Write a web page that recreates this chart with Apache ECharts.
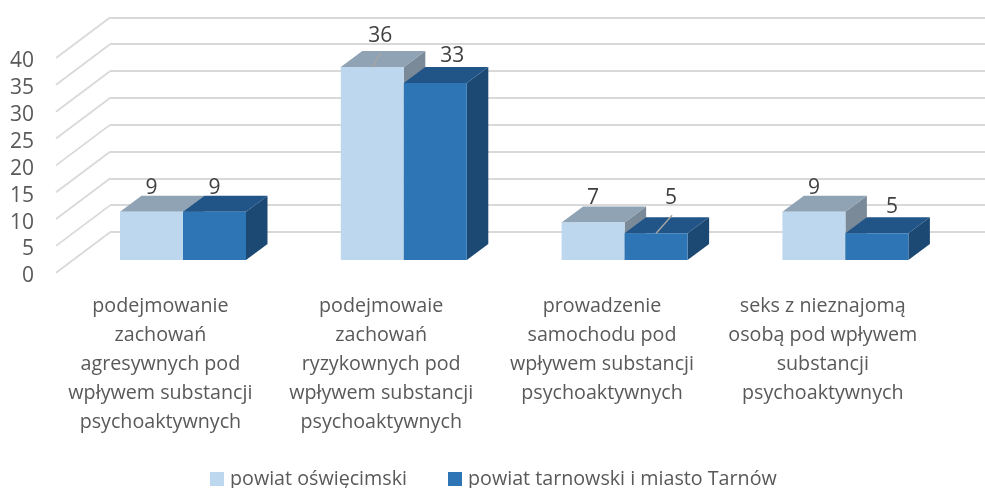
<!DOCTYPE html>
<html>
<head>
<meta charset="utf-8">
<style>html,body{margin:0;padding:0;background:#fff}#c{width:985px;height:488px}</style>
<script src="https://cdn.jsdelivr.net/npm/echarts@6/dist/echarts.min.js"></script>
</head>
<body>
<div id="c"></div>
<script>
const categories = [
  'podejmowanie\nzachowań\nagresywnych pod\nwpływem substancji\npsychoaktywnych',
  'podejmowaie\nzachowań\nryzykownych pod\nwpływem substancji\npsychoaktywnych',
  'prowadzenie\nsamochodu pod\nwpływem substancji\npsychoaktywnych',
  'seks z nieznajomą\nosobą pod wpływem\nsubstancji\npsychoaktywnych'
];
const seriesNames = ['powiat oświęcimski', 'powiat tarnowski i miasto Tarnów'];
const oswiecimski = [9, 36, 7, 9];
const tarnowski = [9, 33, 5, 5];
const tickValues = [0, 5, 10, 15, 20, 25, 30, 35, 40];

const FONT = '"Open Sans", sans-serif';
const barDepth = [21.5, -16];
const wallDepth = [54, -40.5];
const barFrac = 63 / 220.8;
const palettes = [
  { front: '#BDD7EE', top: '#8FA3B4', side: '#7A8A98' },
  { front: '#2E75B6', top: '#215588', side: '#1C4973' }
];
// label nudges [dx, dy from the front top edge] per series per category, leader = draw a leader line
const labelPlace = [
  [{ dx: 0, dy: -24 }, { dx: 8, dy: -31, leader: [[0, 0], [8, -14]] }, { dx: 0, dy: -24 }, { dx: 0, dy: -24 }],
  [{ dx: 0, dy: -24 }, { dx: 17, dy: -27 }, { dx: 15, dy: -35, leader: [[0, 0], [16, -18]] }, { dx: 15, dy: -26 }]
];

function barRenderer(si) {
  return function (params, api) {
    const idx = api.value(0), val = api.value(1);
    const top = api.coord([idx, val]);
    const base = api.coord([idx, 0]);
    const band = api.size([1, 0])[0];
    const w = band * barFrac;
    const x0 = si === 0 ? top[0] - w : top[0];
    const x1 = x0 + w;
    const [dx, dy] = barDepth;
    const pal = palettes[si];
    const place = labelPlace[si][idx];
    const cx = (x0 + x1) / 2;
    const children = [
      { type: 'polygon', shape: { points: [[x1, top[1]], [x1 + dx, top[1] + dy], [x1 + dx, base[1] + dy], [x1, base[1]]] }, style: { fill: pal.side } },
      { type: 'polygon', shape: { points: [[x0, top[1]], [x0 + dx, top[1] + dy], [x1 + dx, top[1] + dy], [x1, top[1]]] }, style: { fill: pal.top } },
      { type: 'rect', shape: { x: x0, y: top[1], width: w, height: base[1] - top[1] }, style: { fill: pal.front } }
    ];
    if (place.leader) {
      children.push({
        type: 'line',
        shape: { x1: cx + place.leader[0][0], y1: top[1] + place.leader[0][1], x2: cx + place.leader[1][0], y2: top[1] + place.leader[1][1] },
        style: { stroke: '#A6A6A6', lineWidth: 1.4 }
      });
    }
    children.push({
      type: 'text',
      style: {
        text: String(val), x: cx + place.dx, y: top[1] + place.dy,
        align: 'center', verticalAlign: 'middle',
        font: '21px ' + FONT, fill: '#404040'
      }
    });
    return { type: 'group', children };
  };
}

function wallDiagonal(params, api) {
  const p = api.coord([0, api.value(0)]);
  return {
    type: 'line',
    shape: { x1: p[0], y1: p[1], x2: p[0] + wallDepth[0], y2: p[1] + wallDepth[1] },
    style: { stroke: '#D9D9D9', lineWidth: 1.8 }
  };
}

const chart = echarts.init(document.getElementById('c'), null, { renderer: 'canvas' });
chart.setOption({
  animation: false,
  backgroundColor: '#fff',
  legend: {
    data: seriesNames,
    left: 205, top: 464,
    itemWidth: 14, itemHeight: 14, itemGap: 41, icon: 'rect',
    textStyle: { fontFamily: FONT, fontSize: 19.7, color: '#595959', padding: [0, 0, 0, 1] }
  },
  grid: [
    { left: 56, top: 58, width: 60, height: 214.7 },
    { left: 110, top: 17.3, width: 875, height: 214.7 },
    { left: 72.6, top: 45.6, width: 883.2, height: 214.4 },
    { left: 50, top: 45.6, width: 883.2, height: 214.4 },
    { left: 56, top: 61.5, width: 60, height: 214.7 }
  ],
  xAxis: [
    { gridIndex: 0, type: 'value', min: 0, max: 1, show: false },
    { gridIndex: 1, type: 'value', min: 0, max: 1, show: false },
    {
      gridIndex: 2, type: 'category', data: categories,
      axisLine: { show: false }, axisTick: { show: false }, axisLabel: { show: false }
    },
    {
      gridIndex: 3, type: 'category', data: categories,
      axisLine: { show: false }, axisTick: { show: false },
      axisLabel: { interval: 0, margin: 32, fontFamily: FONT, fontSize: 19.7, lineHeight: 29, color: '#595959', verticalAlign: 'top' }
    },
    { gridIndex: 4, type: 'value', min: 0, max: 1, show: false }
  ],
  yAxis: [
    { gridIndex: 0, type: 'value', min: 0, max: 40, interval: 5, show: false },
    {
      gridIndex: 1, type: 'value', min: 0, max: 40, interval: 5,
      axisLine: { show: false }, axisTick: { show: false }, axisLabel: { show: false },
      splitLine: { show: true, lineStyle: { color: '#D9D9D9', width: 1.8 } }
    },
    { gridIndex: 2, type: 'value', min: 0, max: 40, interval: 5, show: false },
    { gridIndex: 3, type: 'value', min: 0, max: 40, interval: 5, show: false },
    {
      gridIndex: 4, type: 'value', min: 0, max: 40, interval: 5,
      axisLine: { show: false }, axisTick: { show: false }, splitLine: { show: false },
      axisLabel: { margin: 22, fontFamily: FONT, fontSize: 21, color: '#595959' }
    }
  ],
  series: [
    {
      type: 'custom', name: 'wall', xAxisIndex: 0, yAxisIndex: 0, silent: true, clip: false, z: 1,
      data: tickValues.map(v => [v]), encode: { y: 0 }, renderItem: wallDiagonal
    },
    {
      type: 'custom', name: seriesNames[0], xAxisIndex: 2, yAxisIndex: 2, clip: false, z: 2,
      itemStyle: { color: palettes[0].front },
      data: oswiecimski.map((v, i) => [i, v]), encode: { x: 0, y: 1 }, renderItem: barRenderer(0)
    },
    {
      type: 'custom', name: seriesNames[1], xAxisIndex: 2, yAxisIndex: 2, clip: false, z: 3,
      itemStyle: { color: palettes[1].front },
      data: tarnowski.map((v, i) => [i, v]), encode: { x: 0, y: 1 }, renderItem: barRenderer(1)
    }
  ]
});
</script>
</body>
</html>
